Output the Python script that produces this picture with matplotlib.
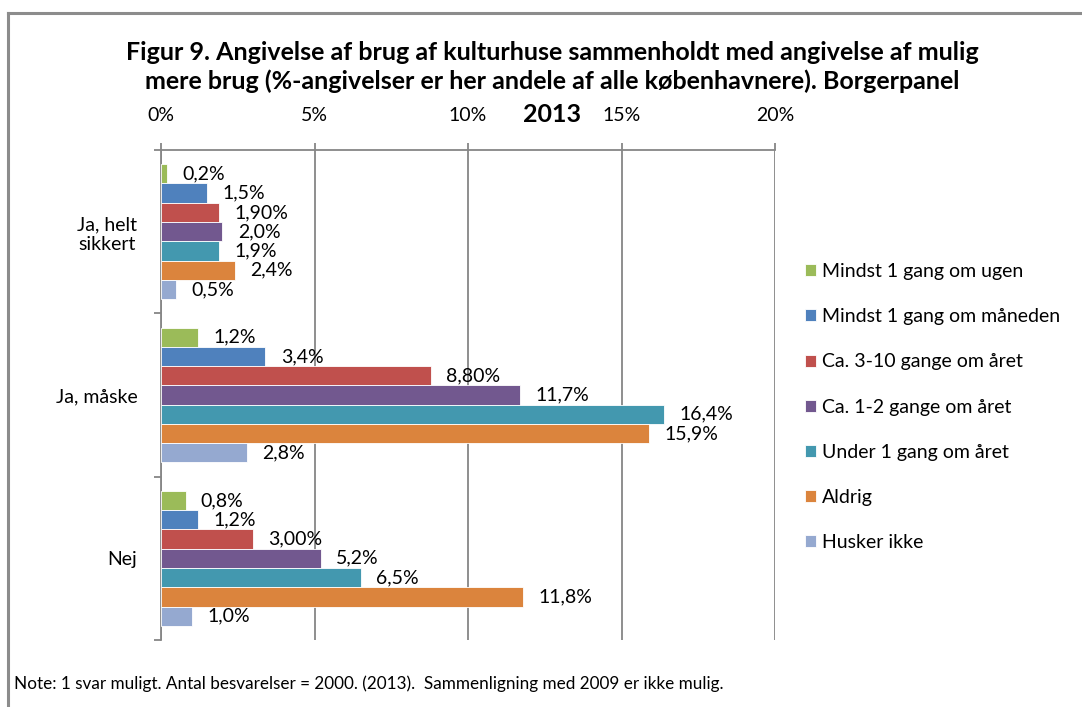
import numpy as np
import matplotlib
matplotlib.use("Agg")
import matplotlib.pyplot as plt
from matplotlib.lines import Line2D

plt.rcParams['font.family'] = ['Lato', 'DejaVu Sans']

categories = ["Ja, helt\nsikkert", "Ja, måske", "Nej"]
series = ["Mindst 1 gang om ugen", "Mindst 1 gang om måneden", "Ca. 3-10 gange om året",
          "Ca. 1-2 gange om året", "Under 1 gang om året", "Aldrig", "Husker ikke"]
# values per series, in the order of categories
values = [
    [0.2, 1.2, 0.8],
    [1.5, 3.4, 1.2],
    [1.9, 8.8, 3.0],
    [2.0, 11.7, 5.2],
    [1.9, 16.4, 6.5],
    [2.4, 15.9, 11.8],
    [0.5, 2.8, 1.0],
]
labels = [
    ["0,2%", "1,2%", "0,8%"],
    ["1,5%", "3,4%", "1,2%"],
    ["1,90%", "8,80%", "3,00%"],
    ["2,0%", "11,7%", "5,2%"],
    ["1,9%", "16,4%", "6,5%"],
    ["2,4%", "15,9%", "11,8%"],
    ["0,5%", "2,8%", "1,0%"],
]
colors = ["#9BBB59", "#4F81BD", "#C0504D", "#72588F", "#4398AF", "#DB843D", "#95A9D0"]
xticks = [0, 5, 10, 15, 20]

title = ("Figur 9. Angivelse af brug af kulturhuse sammenholdt med angivelse af mulig\n"
         "mere brug (%-angivelser er her andele af alle københavnere). Borgerpanel")
title_year = "2013"
note = "Note: 1 svar muligt. Antal besvarelser = 2000. (2013).  Sammenligning med 2009 er ikke mulig."

W, H = 1082, 707
fig = plt.figure(figsize=(W / 100, H / 100), dpi=100)
ax = fig.add_axes([161 / W, 1 - 640 / H, (775 - 161) / W, (640 - 150) / H])

grid = "#868686"
fs = 14
bar_h = 0.118
y0 = np.arange(len(categories))
for i, (name, vals, labs, col) in enumerate(zip(series, values, labels, colors)):
    ypos = y0 + (i - 3) * bar_h
    ax.barh(ypos, vals, height=bar_h, color=col, edgecolor="white", linewidth=0.6,
            label=name, zorder=3)
    for y, v, lab in zip(ypos, vals, labs):
        ax.annotate(lab, (v, y), xytext=(11, 0), textcoords="offset points",
                    ha="left", va="center", fontsize=fs, color="black", zorder=4)

ax.set_xlim(0, 20)
ax.set_ylim(2.5, -0.5)
ax.xaxis.tick_top()
ax.set_xticks(xticks)
ax.set_xticklabels([f"{t}%" for t in xticks])
ax.tick_params(axis="x", length=5, width=1.3, color=grid, pad=14, labelsize=fs)
ax.grid(axis="x", color=grid, linewidth=1.3, zorder=0)

ax.set_yticks(y0)
ax.set_yticklabels(categories, multialignment="center")
ax.set_yticks([-0.5, 0.5, 1.5, 2.5], minor=True)
ax.tick_params(axis="y", which="major", length=0, pad=17, labelsize=fs)
ax.tick_params(axis="y", which="minor", length=5, width=1.3, color=grid)

for s in ["right", "bottom"]:
    ax.spines[s].set_visible(False)
for s in ["top", "left"]:
    ax.spines[s].set_color(grid)
    ax.spines[s].set_linewidth(1.3)

leg = fig.legend(loc="upper left", bbox_to_anchor=(805 / W, 1 - 263 / H), frameon=False,
                 fontsize=fs, handlelength=0.57, handleheight=0.57, handletextpad=0.3,
                 labelspacing=1.45, borderpad=0, borderaxespad=0)

fig.text(552 / W, 1 - 67 / H, title, ha="center", va="center", fontsize=18,
         fontweight="bold", linespacing=1.32)
fig.text(552 / W, 1 - 115 / H, title_year, ha="center", va="center", fontsize=18,
         fontweight="bold")
fig.text(14 / W, 1 - 684 / H, note, ha="left", va="center", fontsize=12.3)

# outer chart frame (left and top edges visible)
fig.add_artist(Line2D([7.5 / W, 7.5 / W], [0, 1 - 13 / H], color="#8C8C8C", linewidth=2.2))
fig.add_artist(Line2D([7.5 / W, 1], [1 - 13 / H, 1 - 13 / H], color="#8C8C8C", linewidth=2.2))

fig.savefig("out.png", dpi=100)
